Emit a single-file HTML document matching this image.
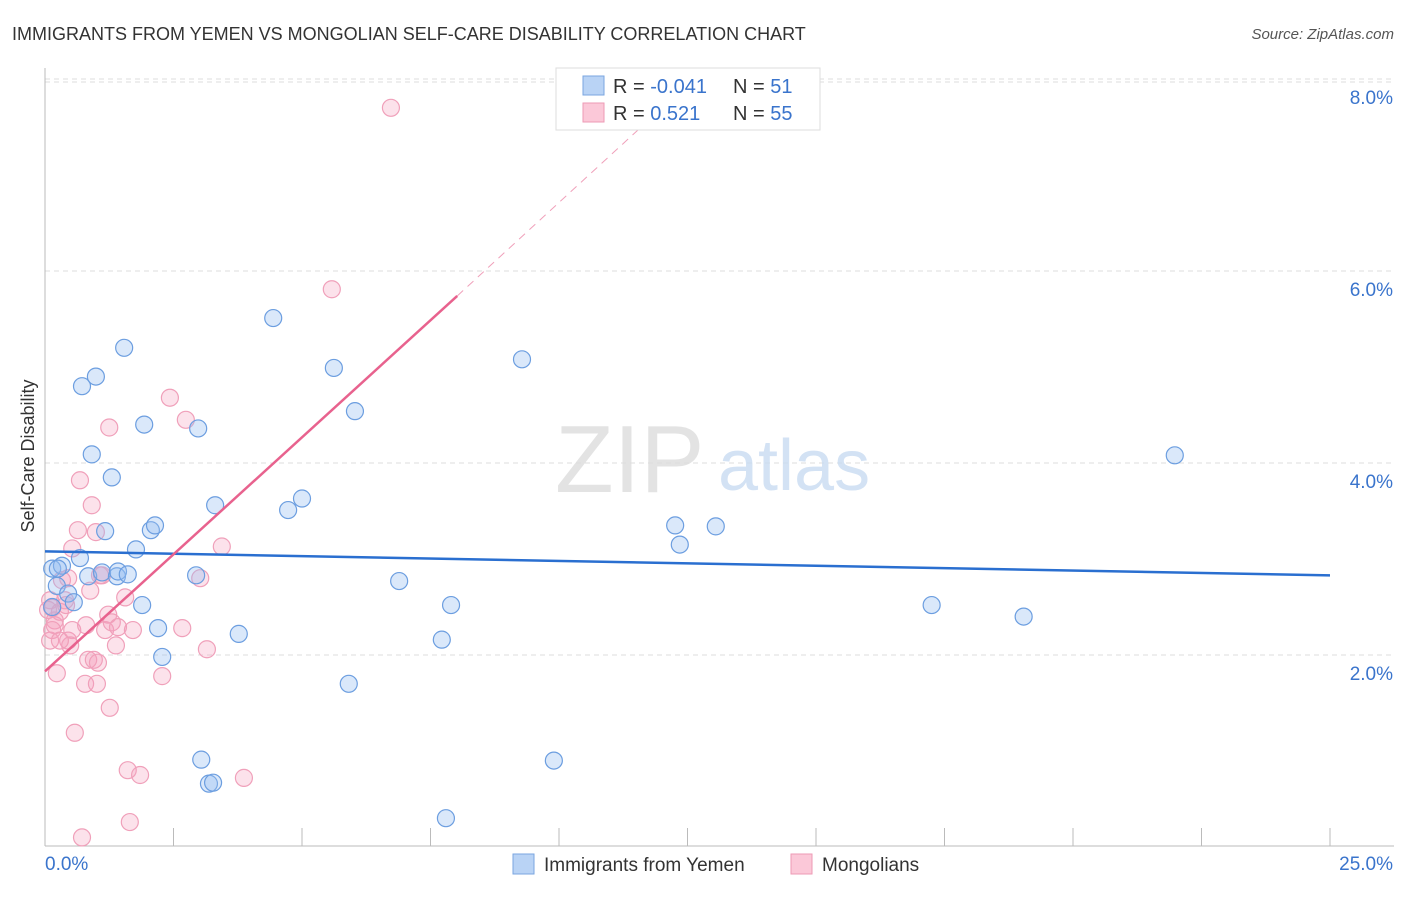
<!DOCTYPE html>
<html><head><meta charset="utf-8">
<style>
body{margin:0;background:#fff;font-family:"Liberation Sans",sans-serif;}
svg text{font-family:"Liberation Sans",sans-serif;}
</style></head>
<body>
<svg id="chart" width="1406" height="892" xmlns="http://www.w3.org/2000/svg">
<text x="12" y="40" font-size="18" fill="#333">IMMIGRANTS FROM YEMEN VS MONGOLIAN SELF-CARE DISABILITY CORRELATION CHART</text>
<text x="1394" y="39" font-size="15" fill="#555" font-style="italic" text-anchor="end">Source: ZipAtlas.com</text>
<g id="grid"></g>
<text x="555" y="492" font-size="96" fill="#ddd" font-family="Liberation Serif" opacity="0.8">ZIP</text>
<text x="718" y="490" font-size="72" fill="#c9dcf2" opacity="0.8">atlas</text>
<g id="points"></g>
<g id="lines"></g>
<text transform="translate(34,456) rotate(-90)" font-size="18" fill="#333" text-anchor="middle">Self-Care Disability</text>
<g>
<rect x="556" y="68" width="264" height="62" fill="#fff" stroke="#ddd"/>
<rect x="583" y="76" width="21" height="19" fill="#b9d3f5" stroke="#7aa6e0"/>
<rect x="583" y="103" width="21" height="19" fill="#fbc8d8" stroke="#ee9ab5"/>
<text x="613" y="93" font-size="20" fill="#333">R = <tspan fill="#3a74cc">-0.041</tspan></text>
<text x="733" y="93" font-size="20" fill="#333">N = <tspan fill="#3a74cc"> 51</tspan></text>
<text x="613" y="120" font-size="20" fill="#333">R = <tspan fill="#3a74cc">  0.521</tspan></text>
<text x="733" y="120" font-size="20" fill="#333">N = <tspan fill="#3a74cc">55</tspan></text>
</g>
<g>
<rect x="513" y="854" width="21" height="20" fill="#b9d3f5" stroke="#7aa6e0"/>
<text x="544" y="871" font-size="19" fill="#333">Immigrants from Yemen</text>
<rect x="791" y="854" width="21" height="20" fill="#fbc8d8" stroke="#ee9ab5"/>
<text x="822" y="871" font-size="19" fill="#333">Mongolians</text>
</g>
</svg>
<script>
const xTicks=[0,2.5,5,7.5,10,12.5,15,17.5,20,22.5,25];
const yTicks=[2,4,6,8];
const yTickLabels=["2.0%","4.0%","6.0%","8.0%"];
const blueX=[0.14,0.23,0.33,0.45,0.56,0.68,0.72,0.84,0.91,0.99,1.11,1.17,1.30,1.40,1.42,1.54,1.61,1.77,1.89,1.93,2.06,2.14,2.20,2.28,2.94,2.98,3.04,3.19,3.27,3.31,3.77,4.44,4.73,5.00,5.62,5.91,6.03,6.89,7.72,7.80,7.90,9.28,9.90,12.26,12.35,13.05,17.25,19.04,21.98,0.14,0.25];
const blueY=[2.90,2.72,2.93,2.64,2.55,3.01,4.80,2.82,4.09,4.90,2.86,3.29,3.85,2.82,2.87,5.20,2.84,3.10,2.52,4.40,3.30,3.35,2.28,1.98,2.83,4.36,0.91,0.66,0.67,3.56,2.22,5.51,3.51,3.63,4.99,1.70,4.54,2.77,2.16,0.30,2.52,5.08,0.90,3.35,3.15,3.34,2.52,2.40,4.08,2.50,2.90];
const pinkX=[0.10,0.10,0.14,0.19,0.19,0.23,0.29,0.33,0.41,0.45,0.45,0.49,0.53,0.58,0.64,0.68,0.72,0.78,0.80,0.84,0.88,0.91,0.95,0.99,1.01,1.03,1.11,1.17,1.23,1.26,1.30,1.38,1.42,1.56,1.61,1.65,1.71,1.85,2.28,2.43,2.67,2.74,3.02,3.15,3.44,3.87,5.58,6.73,1.25,0.14,0.29,0.53,1.07,0.39,0.06];
const pinkY=[2.57,2.15,2.49,2.36,2.31,1.81,2.45,2.78,2.52,2.15,2.80,2.10,2.26,1.19,3.30,3.82,0.10,1.70,2.31,1.95,2.67,3.56,1.95,3.28,1.70,1.92,2.83,2.26,2.42,1.45,2.34,2.10,2.29,2.60,0.80,0.26,2.26,0.75,1.78,4.68,2.28,4.45,2.80,2.06,3.13,0.72,5.81,7.70,4.37,2.26,2.15,3.11,2.83,2.57,2.47];
const X=v=>45+v*51.4, Y=v=>847-v*96;
const NS="http://www.w3.org/2000/svg";
function mk(t,a,p){const e=document.createElementNS(NS,t);for(const k in a)e.setAttribute(k,a[k]);p.appendChild(e);return e;}
const grid=document.getElementById('grid');
yTicks.forEach((v,i)=>{
 const l=mk('line',{x1:45,x2:1394,y1:Y(v),y2:Y(v),stroke:'#ddd','stroke-dasharray':'5,4'},grid);
 
 
 const t=mk('text',{x:1393,y:Y(v)+25,'font-size':19,fill:'#3a74cc','text-anchor':'end'},grid);
 t.textContent=yTickLabels[i];
 
 
});
mk('line',{x1:45,x2:1394,y1:Y(8)+3,y2:Y(8)+3,stroke:'#ddd','stroke-dasharray':'5,4'},grid);
const ax=mk('line',{x1:45,x2:45,y1:68,y2:846,stroke:'#bbb'},grid);


const bx=mk('line',{x1:45,x2:1394,y1:846,y2:846,stroke:'#bbb'},grid);


xTicks.forEach(v=>{const t=mk('line',{x1:X(v),x2:X(v),y1:828,y2:846,stroke:'#bbb'},grid);
 
 });
const xl0=mk('text',{x:45,y:870,'font-size':19,fill:'#3a74cc'},grid);xl0.textContent='0.0%';


const xl1=mk('text',{x:1393,y:870,'font-size':19,fill:'#3a74cc','text-anchor':'end'},grid);xl1.textContent='25.0%';


const pts=document.getElementById('points');
pinkX.forEach((v,i)=>{const c=mk('circle',{cx:X(v),cy:Y(pinkY[i]),r:8.5,fill:'rgba(246,160,190,0.3)',stroke:'#f0a0ba','stroke-width':1.2},pts);
 
 });
blueX.forEach((v,i)=>{const c=mk('circle',{cx:X(v),cy:Y(blueY[i]),r:8.5,fill:'rgba(150,190,240,0.35)',stroke:'#6c9ee0','stroke-width':1.2},pts);
 
 });
const ln=document.getElementById('lines');
const b=mk('line',{x1:X(0),y1:Y(3.08),x2:X(25),y2:Y(2.83),stroke:'#2a6fd0','stroke-width':2.5},ln);


const p=mk('line',{x1:X(0),y1:Y(1.83),x2:X(8.02),y2:Y(5.74),stroke:'#e8628e','stroke-width':2.5},ln);


const pd=mk('line',{x1:X(8.02),y1:Y(5.74),x2:X(11.6),y2:Y(7.5),stroke:'#f0a0ba','stroke-width':1,'stroke-dasharray':'8,6'},ln);


</script>
</body></html>
